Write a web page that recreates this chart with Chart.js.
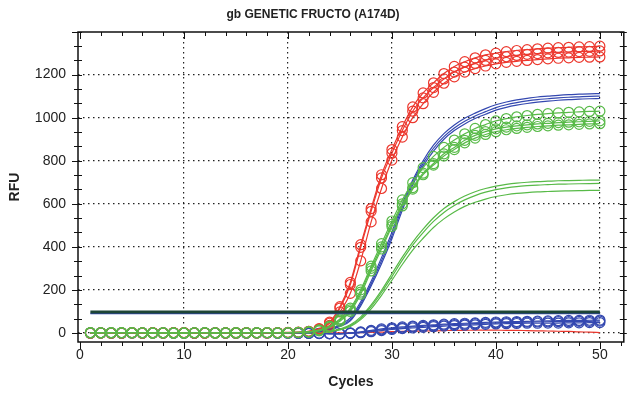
<!DOCTYPE html>
<html>
<head>
<meta charset="utf-8">
<script src="https://cdn.jsdelivr.net/npm/chart.js@4.4.1/dist/chart.umd.min.js"></script>
<style>
  html, body { margin: 0; padding: 0; background: #fff; }
</style>
</head>
<body>
<canvas id="grafico" width="630" height="394"></canvas>
<script>
// Ciclos (eje X)
const ciclos = [1,2,3,4,5,6,7,8,9,10, 11,12,13,14,15,16,17,18,19,20, 21,22,23,24,25,26,27,28,29,30, 31,32,33,34,35,36,37,38,39,40, 41,42,43,44,45,46,47,48,49,50]

// Etiquetas de los ejes
const ticksX = [0, 10, 20, 30, 40, 50]
const ticksY = [0, 200, 400, 600, 800, 1000, 1200]

// Curvas rojas con circulos
const rojoA = [0,1,0,-1,1,0,2,1,0,1, 0,-1,0,1,2,1,0,1,2,3, 4,8,20,50,122,235,410,578,735,852, 958,1050,1115,1162,1205,1238,1260,1278,1292,1300, 1307,1312,1316,1320,1323,1325,1327,1329,1330,1332]
const rojoB = [1,0,-1,0,2,1,0,-1,1,2, 1,0,1,0,-1,0,1,2,1,2, 3,7,18,45,115,225,398,565,720,835, 940,1030,1092,1140,1180,1212,1235,1252,1266,1276, 1283,1289,1294,1298,1301,1303,1305,1307,1308,1310]
const rojoC = [-1,0,1,1,0,-1,0,1,2,0, -1,1,0,0,1,2,1,0,1,1, 2,5,14,35,98,184,335,516,671,803, 910,1000,1065,1118,1160,1190,1212,1228,1240,1250, 1257,1262,1266,1270,1273,1276,1278,1280,1281,1282]

// Curvas azules sin marcador
const azulL1 = [0,0,1,0,-1,0,1,0,0,1, 0,-1,0,0,1,0,0,1,1,1, 2,4,8,18,38,70,145,240,350,468, 600,710,800,872,926,966,997,1021,1042,1060, 1073,1083,1090,1096,1100,1104,1107,1109,1111,1112]
const azulL2 = [0,1,0,0,1,-1,0,0,1,0, 1,0,0,-1,0,1,0,0,1,1, 2,3,7,16,34,62,135,228,335,452, 585,700,788,858,912,952,983,1008,1028,1047, 1060,1070,1078,1084,1088,1092,1095,1097,1099,1100]
const azulL3 = [1,0,0,1,0,0,-1,1,0,0, 0,1,-1,0,0,1,1,0,0,1, 1,3,6,14,30,56,126,218,322,438, 570,688,776,845,900,940,971,996,1016,1035, 1048,1058,1066,1072,1077,1081,1084,1086,1088,1089]

// Curvas verdes con circulos
const verdeC1 = [2,1,0,1,2,0,1,0,-1,0, 1,2,0,1,0,1,2,1,0,1, 3,6,14,32,65,115,200,310,415,520, 618,698,768,820,862,896,925,950,968,985, 996,1004,1010,1015,1019,1022,1025,1027,1029,1030]
const verdeC2 = [1,0,1,2,0,1,0,1,0,-1, 0,1,1,0,2,1,0,1,1,2, 3,5,12,30,60,107,190,300,400,505, 600,675,742,787,832,862,895,918,935,948, 956,962,967,971,974,977,979,981,983,985]
const verdeC3 = [0,1,2,0,1,1,-1,0,1,0, 1,0,-1,1,0,0,1,2,1,1, 2,4,10,26,54,100,180,288,390,495, 590,668,735,780,822,852,883,905,922,935, 944,950,955,959,962,965,967,969,971,972]

// Curvas verdes sin marcador
const verdeL1 = [0,0,1,0,0,1,0,0,0,1, 0,0,1,0,0,0,1,0,1,1, 1,2,3,8,18,38,75,130,198,275, 352,422,482,535,578,610,636,656,671,682, 690,696,700,703,705,707,708,709,710,710]
const verdeL2 = [0,1,0,0,1,0,0,1,0,0, 0,1,0,0,1,0,0,0,1,0, 1,2,3,7,16,34,68,122,188,262, 338,408,466,518,560,592,618,638,654,666, 674,680,684,687,689,691,692,693,694,695]
const verdeL3 = [1,0,0,0,0,1,0,0,1,0, 0,0,0,1,0,1,0,0,0,1, 1,1,2,6,14,30,62,112,175,245, 318,385,440,490,530,562,588,607,622,634, 642,648,652,655,657,659,660,661,662,662]

// Curvas azules con circulos (casi planas)
const azulC1 = [1,0,-1,0,1,0,0,1,-1,0, 0,1,0,-1,0,1,0,0,-1,0, -1,-1,-2,-3,-3,0,5,12,19,24, 28,32,35,38,41,43,45,47,49,51, 52,53,54,55,56,57,58,58,59,60]
const azulC2 = [0,1,0,-1,0,1,0,0,1,-1, 0,0,1,0,-1,0,1,0,0,-1, -1,-2,-2,-3,-4,-1,3,9,15,20, 24,28,31,34,37,39,41,43,45,47, 48,49,50,51,52,53,53,54,54,55]
const azulC3 = [-1,0,1,0,0,-1,1,0,0,1, -1,0,0,1,0,-1,0,1,0,0, -1,-2,-3,-4,-4,-2,1,6,11,16, 20,23,26,29,32,34,36,38,40,42, 43,44,45,45,46,46,47,47,48,48]

// Curva roja plana
const rojoPlano = [0,0,0,0,0,0,0,0,0,0, 0,0,0,0,0,0,0,0,0,0, 0,0,0,0,0, 1,2,3,4,6, 7,8,9,10,11,12,12,13,13,13, 12,12,11,10,9,8,7,5,4,2]

// Umbrales
const umbralX = [1, 50]
const umbralOscuro = 97
const umbralAzul = 90

const rojo = 'rgb(236,56,46)'
const azul = 'rgb(52,72,176)'
const verde = 'rgb(88,186,72)'

// Arma los puntos {x, y}
function puntos(valores) {
  return valores.map((v, i) => ({ x: ciclos[i], y: v }))
}

function conCirculos(valores, color) {
  return {
    data: puntos(valores),
    borderColor: color,
    borderWidth: 1.2,
    pointRadius: 5,
    pointBorderWidth: 1.2,
    pointBorderColor: color,
    pointBackgroundColor: 'rgba(0,0,0,0)',
    cubicInterpolationMode: 'monotone'
  }
}

function sinMarcador(valores, color) {
  return {
    data: puntos(valores),
    borderColor: color,
    borderWidth: 1.2,
    pointRadius: 0,
    cubicInterpolationMode: 'monotone'
  }
}

function lineaUmbral(valor, color, ancho) {
  return {
    data: umbralX.map(x => ({ x: x, y: valor })),
    borderColor: color,
    borderWidth: ancho,
    pointRadius: 0
  }
}

// Dibuja el marco y las marcas de los ejes
const marcoEjes = {
  id: 'marcoEjes',
  afterDatasetsDraw(chart) {
    const { ctx, chartArea: a, scales: { x, y } } = chart
    ctx.save()
    ctx.strokeStyle = '#111'
    ctx.lineWidth = 1.5
    ctx.strokeRect(a.left, a.top, a.right - a.left, a.bottom - a.top)
    ctx.lineWidth = 1
    ctx.beginPath()
    for (let v = 0; v <= 52; v += 2) {
      const px = Math.round(x.getPixelForValue(v)) + 0.5
      const largo = v % 10 === 0 ? 7 : 4
      ctx.moveTo(px, a.bottom); ctx.lineTo(px, a.bottom + largo)
      ctx.moveTo(px, a.top); ctx.lineTo(px, a.top + largo)
    }
    for (let k = 0; k <= 21; k++) {
      const v = k * 200 / 3
      const py = Math.round(y.getPixelForValue(v)) + 0.5
      const mayor = k % 3 === 0
      ctx.moveTo(a.left - (mayor ? 6 : 4), py); ctx.lineTo(a.left + 4, py)
      ctx.moveTo(a.right - 4, py); ctx.lineTo(a.right + 3, py)
    }
    ctx.stroke()
    ctx.restore()
  }
}

const config = {
  type: 'line',
  data: {
    datasets: [
      lineaUmbral(umbralOscuro, '#1d4536', 3),
      lineaUmbral(umbralAzul, azul, 1.5),
      conCirculos(verdeC1, verde),
      conCirculos(verdeC2, verde),
      conCirculos(verdeC3, verde),
      conCirculos(rojoA, rojo),
      conCirculos(rojoB, rojo),
      conCirculos(rojoC, rojo),
      sinMarcador(azulL1, azul),
      sinMarcador(azulL2, azul),
      sinMarcador(azulL3, azul),
      sinMarcador(verdeL1, verde),
      sinMarcador(verdeL2, verde),
      sinMarcador(verdeL3, verde),
      conCirculos(azulC1, azul),
      conCirculos(azulC2, azul),
      conCirculos(azulC3, azul),
      sinMarcador(rojoPlano, rojo)
    ]
  },
  options: {
    responsive: false,
    animation: false,
    layout: { padding: { left: 0, right: 4, top: 0, bottom: 0 } },
    plugins: {
      legend: { display: false },
      tooltip: { enabled: false },
      title: {
        display: true,
        text: 'gb GENETIC FRUCTO (A174D)',
        color: '#222',
        font: { family: 'Liberation Sans', size: 12, weight: 'bold' },
        padding: { top: 7, bottom: 10.6 }
      }
    },
    scales: {
      x: {
        type: 'linear',
        min: -0.19,
        max: 52.3,
        afterBuildTicks: s => { s.ticks = ticksX.map(v => ({ value: v })) },
        afterFit: s => { s.height = 52 },
        ticks: {
          color: '#222',
          font: { family: 'Liberation Sans', size: 14 },
          padding: 5,
          maxRotation: 0,
          callback: v => String(v)
        },
        grid: {
          drawTicks: false,
          color: c => (c.tick && c.tick.value > 0) ? '#222' : 'rgba(0,0,0,0)',
          lineWidth: 1.2
        },
        border: { display: false, dash: [1.5, 3.5] },
        title: {
          display: true,
          text: 'Cycles',
          color: '#222',
          font: { family: 'Liberation Sans', size: 14, weight: 'bold' },
          padding: { top: 0, bottom: 3 }
        }
      },
      y: {
        min: -42,
        max: 1398,
        afterBuildTicks: s => { s.ticks = ticksY.map(v => ({ value: v })) },
        afterFit: s => { s.width = 78 },
        ticks: {
          color: '#222',
          font: { family: 'Liberation Sans', size: 14 },
          padding: 12,
          callback: v => String(v)
        },
        grid: {
          drawTicks: false,
          color: '#222',
          lineWidth: 1.2
        },
        border: { display: false, dash: [1.5, 3.5] },
        title: {
          display: true,
          text: 'RFU',
          color: '#222',
          font: { family: 'Liberation Sans', size: 14, weight: 'bold' },
          padding: { top: 7, bottom: 0 }
        }
      }
    }
  },
  plugins: [marcoEjes]
}

new Chart(document.getElementById('grafico'), config)
</script>
</body>
</html>
